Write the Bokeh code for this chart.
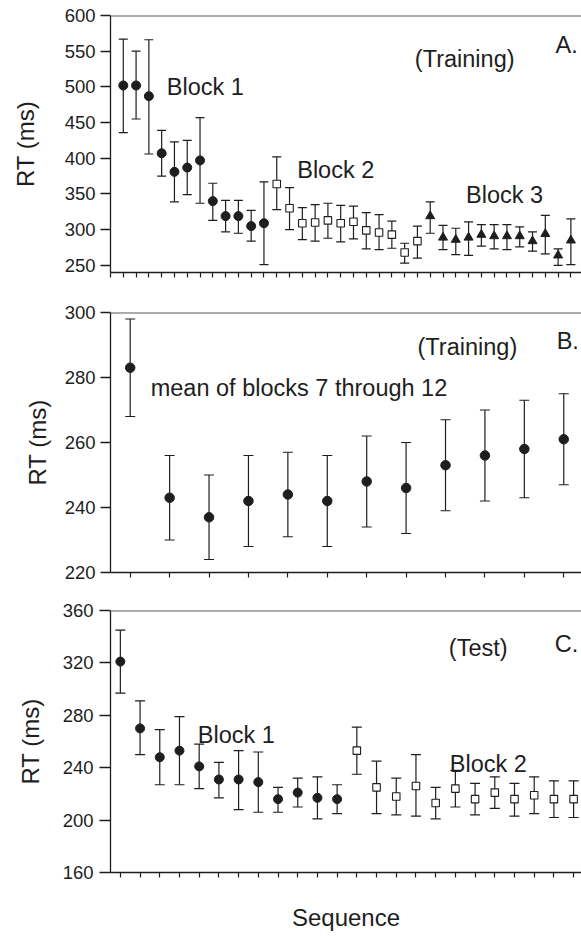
from bokeh.plotting import figure
from bokeh.models import ColumnDataSource, Whisker, TeeHead, FixedTicker, Range1d, Span, Label
from bokeh.layouts import column
from bokeh.embed import file_html
from bokeh.resources import INLINE

FONT = "Liberation Sans"
INK = "#1e1e1e"

# ---------------- data ----------------
# Panel A (Training): 36 sequences, 3 blocks of 12
a_seq = list(range(1, 37))
a_block = [1] * 12 + [2] * 12 + [3] * 12
a_mean = [502, 502, 487, 407, 381, 387, 397, 340, 319, 319, 305, 309,
          364, 330, 309, 310, 313, 309, 311, 299, 296, 293, 268, 284,
          319, 289, 286, 289, 293, 291, 291, 291, 284, 294, 264, 285]
a_upper = [567, 550, 566, 439, 423, 425, 457, 365, 341, 341, 327, 367,
           402, 359, 331, 335, 337, 334, 333, 324, 321, 312, 281, 305,
           339, 306, 302, 311, 307, 307, 307, 304, 297, 320, 273, 315]
a_lower = [436, 455, 406, 375, 339, 349, 337, 313, 297, 295, 284, 251,
           328, 300, 286, 284, 288, 283, 287, 273, 272, 274, 253, 260,
           295, 272, 265, 264, 277, 273, 272, 276, 270, 266, 250, 251]
a_yticks = [250, 300, 350, 400, 450, 500, 550, 600]

# Panel B (Training, mean of blocks 7 through 12)
b_seq = list(range(1, 13))
b_mean = [283, 243, 237, 242, 244, 242, 248, 246, 253, 256, 258, 261]
b_upper = [298, 256, 250, 256, 257, 256, 262, 260, 267, 270, 273, 275]
b_lower = [268, 230, 224, 228, 231, 228, 234, 232, 239, 242, 243, 247]
b_yticks = [220, 240, 260, 280, 300]

# Panel C (Test): 24 sequences, 2 blocks of 12
c_seq = list(range(1, 25))
c_block = [1] * 12 + [2] * 12
c_mean = [321, 270, 248, 253, 241, 231, 231, 229, 216, 221, 217, 216,
          253, 225, 218, 226, 213, 224, 216, 221, 216, 219, 216, 216]
c_upper = [345, 291, 269, 279, 258, 244, 253, 252, 225, 232, 233, 227,
           271, 245, 232, 250, 225, 238, 228, 233, 228, 233, 230, 230]
c_lower = [297, 250, 227, 227, 224, 217, 208, 206, 206, 210, 201, 205,
           235, 205, 204, 203, 201, 210, 204, 209, 203, 205, 202, 202]
c_yticks = [160, 200, 240, 280, 320, 360]


def make_panel(height, border_left, border_top, border_bottom, xr, yr, yticks, xticks,
               tick_out, label_standoff, ylabel_standoff):
    p = figure(width=581, height=height, x_range=xr, y_range=yr,
               output_backend="svg", toolbar_location=None, title=None,
               min_border_left=border_left, min_border_right=0,
               min_border_top=border_top, min_border_bottom=border_bottom)
    p.outline_line_color = None
    p.background_fill_color = "white"
    p.border_fill_color = "white"
    p.xgrid.visible = False
    p.ygrid.visible = False

    p.yaxis.ticker = FixedTicker(ticks=yticks)
    p.yaxis.minor_tick_line_color = None
    p.yaxis.major_tick_in = 0
    p.yaxis.major_tick_out = tick_out
    p.yaxis.major_label_standoff = label_standoff
    p.yaxis.major_label_text_font = FONT
    p.yaxis.major_label_text_font_size = "18.5px"
    p.yaxis.major_label_text_color = INK
    p.yaxis.axis_label = "RT (ms)"
    p.yaxis.axis_label_text_font = FONT
    p.yaxis.axis_label_text_font_size = "24px"
    p.yaxis.axis_label_text_font_style = "normal"
    p.yaxis.axis_label_text_color = INK
    p.yaxis.axis_label_standoff = ylabel_standoff
    p.yaxis.axis_line_color = INK
    p.yaxis.axis_line_width = 1.3
    p.yaxis.major_tick_line_color = INK
    p.yaxis.major_tick_line_width = 1.3

    # unlabeled sequence ticks: drawn as minor ticks so no tick labels exist
    p.xaxis.ticker = FixedTicker(ticks=[], minor_ticks=xticks)
    p.xaxis.major_tick_line_color = None
    p.xaxis.minor_tick_in = 0
    p.xaxis.minor_tick_out = 5
    p.xaxis.minor_tick_line_color = INK
    p.xaxis.minor_tick_line_width = 1.2
    p.xaxis.major_label_standoff = 0
    p.xaxis.axis_line_color = INK
    p.xaxis.axis_line_width = 1.3

    p.add_layout(Span(location=yr.end, dimension="width", line_color="#5a5a5a", line_width=2))
    return p


def add_errorbars(p, xs, lo, hi, cap):
    src = ColumnDataSource(dict(x=xs, lower=lo, upper=hi))
    w = Whisker(source=src, base="x", lower="lower", upper="upper", dimension="height",
                line_color=INK, line_width=1.2, level="underlay",
                upper_head=TeeHead(size=cap, line_color=INK, line_width=1.2),
                lower_head=TeeHead(size=cap, line_color=INK, line_width=1.2))
    p.add_layout(w)


def add_text(p, x, y, text, size="23.5px"):
    p.add_layout(Label(x=x, y=y, text=text, text_font=FONT, text_font_size=size,
                       text_color=INK, text_baseline="alphabetic", text_align="left"))


def subset(xs, vals, blocks, b):
    return [v for v, k in zip(vals, blocks) if k == b], [x for x, k in zip(xs, blocks) if k == b]


# ---------------- Panel A ----------------
pa = make_panel(292, 107, 15, 20, Range1d(0, 36.83), Range1d(240, 600), a_yticks,
                list(range(0, 37)), 10, 5, 23)
add_errorbars(pa, a_seq, a_lower, a_upper, 9)
m1, x1 = subset(a_seq, a_mean, a_block, 1)
m2, x2 = subset(a_seq, a_mean, a_block, 2)
m3, x3 = subset(a_seq, a_mean, a_block, 3)
pa.scatter(x1, m1, marker="circle", size=9, fill_color=INK, line_color=INK)
pa.scatter(x2, m2, marker="square", size=7.5, fill_color="white", line_color=INK, line_width=1.1)
pa.scatter(x3, m3, marker="triangle", size=9, fill_color=INK, line_color=INK)
add_text(pa, 4.4, 500, "Block 1")
add_text(pa, 14.6, 384, "Block 2")
add_text(pa, 27.8, 348, "Block 3")
add_text(pa, 23.8, 539, "(Training)")
add_text(pa, 34.8, 558, "A.")

# ---------------- Panel B ----------------
pb = make_panel(299, 108, 20, 19, Range1d(0.5, 12.45), Range1d(220, 300), b_yticks,
                list(range(1, 13)), 10, 5, 11)
add_errorbars(pb, b_seq, b_lower, b_upper, 10)
pb.scatter(b_seq, b_mean, marker="circle", size=9.5, fill_color=INK, line_color=INK)
add_text(pb, 8.29, 289.5, "(Training)")
add_text(pb, 11.82, 291.1, "B.")
add_text(pb, 1.52, 276.9, "mean of blocks 7 through 12")

# ---------------- Panel C ----------------
pc = make_panel(347, 110, 19, 66, Range1d(0.5, 24.4), Range1d(160, 360), c_yticks,
                list(range(1, 25)), 11, 6, 16)
add_errorbars(pc, c_seq, c_lower, c_upper, 10)
cm1, cx1 = subset(c_seq, c_mean, c_block, 1)
cm2, cx2 = subset(c_seq, c_mean, c_block, 2)
pc.scatter(cx1, cm1, marker="circle", size=9, fill_color=INK, line_color=INK)
pc.scatter(cx2, cm2, marker="square", size=7.5, fill_color="white", line_color=INK, line_width=1.1)
pc.xaxis.axis_label = "Sequence"
pc.xaxis.axis_label_text_font = FONT
pc.xaxis.axis_label_text_font_size = "24px"
pc.xaxis.axis_label_text_font_style = "normal"
pc.xaxis.axis_label_text_color = INK
pc.xaxis.axis_label_standoff = 26
add_text(pc, 17.67, 331.6, "(Test)")
add_text(pc, 23.04, 334.6, "C.")
add_text(pc, 4.93, 264.8, "Block 1")
add_text(pc, 17.72, 242.7, "Block 2")

layout = column(pa, pb, pc)
open("out.html", "w").write(file_html(layout, INLINE))
